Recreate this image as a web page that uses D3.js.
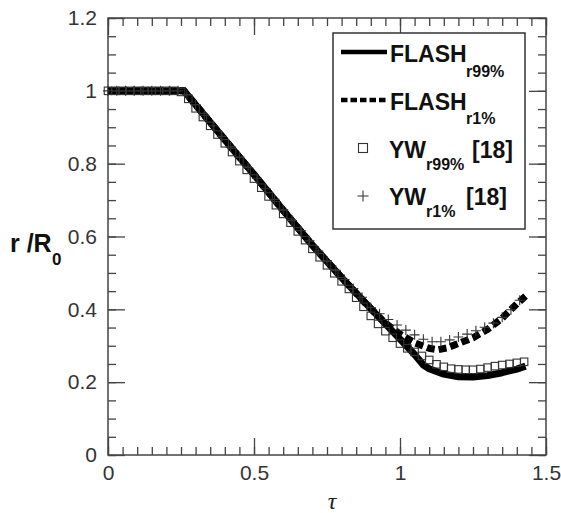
<!DOCTYPE html>
<html>
<head>
<meta charset="utf-8">
<script src="https://cdn.jsdelivr.net/npm/d3@7"></script>
<style>
  body { margin: 0; background: #fff; }
  svg { display: block; }
</style>
</head>
<body>
<script>
// FLASH r99% (solid line)
const flash99Tau = [0, 0.26, 0.3, 0.4, 0.5, 0.6, 0.7, 0.8, 0.9, 1.0, 1.05, 1.08, 1.1, 1.15, 1.2, 1.25, 1.3, 1.35, 1.4, 1.43];
const flash99R   = [1, 1, 0.962, 0.866, 0.77, 0.672, 0.576, 0.487, 0.402, 0.318, 0.276, 0.247, 0.237, 0.222, 0.215, 0.214, 0.218, 0.226, 0.236, 0.244];

// FLASH r1% (dashed line)
const flash1Tau = [0, 0.26, 0.3, 0.4, 0.5, 0.6, 0.7, 0.8, 0.88, 0.95, 1.0, 1.05, 1.1, 1.13, 1.16, 1.2, 1.25, 1.3, 1.35, 1.4, 1.43];
const flash1R   = [1, 1, 0.962, 0.866, 0.77, 0.672, 0.576, 0.487, 0.418, 0.362, 0.332, 0.308, 0.293, 0.289, 0.294, 0.306, 0.322, 0.345, 0.376, 0.415, 0.436];

// YW r99% [18] (squares)
const yw99Tau = [0, 0.025, 0.05, 0.075, 0.1, 0.125, 0.15, 0.175, 0.2, 0.225,
  0.25, 0.275, 0.3, 0.325, 0.35, 0.375, 0.4, 0.425, 0.45, 0.475,
  0.5, 0.525, 0.55, 0.575, 0.6, 0.625, 0.65, 0.675, 0.7, 0.725,
  0.75, 0.775, 0.8, 0.825, 0.85, 0.875, 0.9, 0.925, 0.95, 0.975,
  1.0, 1.025, 1.05, 1.075, 1.1, 1.125, 1.15, 1.175, 1.2, 1.225,
  1.25, 1.275, 1.3, 1.325, 1.35, 1.375, 1.4, 1.425];
const yw99R = [1, 1, 1, 1, 1, 1, 1, 1, 1, 1,
  0.997, 0.978, 0.952, 0.928, 0.904, 0.88, 0.856, 0.832, 0.807, 0.783,
  0.759, 0.734, 0.71, 0.686, 0.662, 0.638, 0.614, 0.59, 0.566, 0.543,
  0.521, 0.499, 0.477, 0.456, 0.432, 0.407, 0.382, 0.36, 0.34, 0.322,
  0.306, 0.293, 0.283, 0.272, 0.261, 0.249, 0.242, 0.237, 0.235, 0.234,
  0.234, 0.236, 0.24, 0.244, 0.247, 0.25, 0.253, 0.256];

// YW r1% [18] (plus signs)
const yw1Tau = [0, 0.03, 0.06, 0.09, 0.12, 0.15, 0.18, 0.21, 0.24, 0.27,
  0.3, 0.33, 0.36, 0.39, 0.42, 0.45, 0.48, 0.51, 0.54, 0.57,
  0.6, 0.63, 0.66, 0.69, 0.72, 0.75, 0.78, 0.81, 0.84, 0.87,
  0.9, 0.93, 0.96, 0.99, 1.02, 1.05, 1.08, 1.11, 1.14, 1.17,
  1.2, 1.23, 1.26, 1.29, 1.32, 1.35, 1.38, 1.41];
const yw1R = [1, 1, 1, 1, 1, 1, 1, 1, 1, 0.99,
  0.962, 0.933, 0.904, 0.875, 0.846, 0.818, 0.789, 0.76, 0.731, 0.702,
  0.673, 0.644, 0.616, 0.588, 0.56, 0.533, 0.507, 0.482, 0.457, 0.433,
  0.405, 0.388, 0.372, 0.357, 0.343, 0.33, 0.318, 0.311, 0.311, 0.316,
  0.324, 0.332, 0.341, 0.351, 0.362, 0.378, 0.399, 0.425];

const xMajor = [0, 0.5, 1, 1.5];
const yMajor = [0, 0.2, 0.4, 0.6, 0.8, 1, 1.2];
const xMinor = d3.range(0, 1.5001, 0.05);
const yMinor = d3.range(0, 1.2001, 0.05);

const W = 561, H = 513;
const x = d3.scaleLinear().domain([0, 1.5]).range([108, 546]);
const y = d3.scaleLinear().domain([0, 1.2]).range([455, 18]);

const svg = d3.select("body").append("svg")
  .attr("width", W).attr("height", H)
  .attr("xmlns", "http://www.w3.org/2000/svg");

const axisColor = "#444";
const tickFont = "Arial, 'Liberation Sans', sans-serif";

function styleAxis(g, labels) {
  g.select(".domain").remove();
  g.selectAll(".tick line").attr("stroke", axisColor).attr("stroke-width", 1.3);
  g.selectAll(".tick text")
    .attr("fill", "#333")
    .style("font-family", tickFont)
    .style("font-size", "21px");
  if (!labels) g.selectAll(".tick text").remove();
}

// bottom
svg.append("g").attr("transform", `translate(0,${y(0)})`)
  .call(d3.axisBottom(x).tickValues(xMinor).tickSizeInner(-8).tickSizeOuter(0).tickFormat(""))
  .call(g => styleAxis(g, false));
svg.append("g").attr("transform", `translate(0,${y(0)})`)
  .call(d3.axisBottom(x).tickValues(xMajor).tickSizeInner(-17).tickSizeOuter(0).tickPadding(10).tickFormat(d3.format("")))
  .call(g => styleAxis(g, true));
// top
svg.append("g").attr("transform", `translate(0,${y(1.2)})`)
  .call(d3.axisTop(x).tickValues(xMinor).tickSizeInner(-8).tickSizeOuter(0).tickFormat(""))
  .call(g => styleAxis(g, false));
svg.append("g").attr("transform", `translate(0,${y(1.2)})`)
  .call(d3.axisTop(x).tickValues(xMajor).tickSizeInner(-17).tickSizeOuter(0).tickFormat(""))
  .call(g => styleAxis(g, false));
// left
svg.append("g").attr("transform", `translate(${x(0)},0)`)
  .call(d3.axisLeft(y).tickValues(yMinor).tickSizeInner(-8).tickSizeOuter(0).tickFormat(""))
  .call(g => styleAxis(g, false));
svg.append("g").attr("transform", `translate(${x(0)},0)`)
  .call(d3.axisLeft(y).tickValues(yMajor).tickSizeInner(-17).tickSizeOuter(0).tickPadding(11).tickFormat(d3.format("")))
  .call(g => styleAxis(g, true));
// right
svg.append("g").attr("transform", `translate(${x(1.5)},0)`)
  .call(d3.axisRight(y).tickValues(yMinor).tickSizeInner(-8).tickSizeOuter(0).tickFormat(""))
  .call(g => styleAxis(g, false));
svg.append("g").attr("transform", `translate(${x(1.5)},0)`)
  .call(d3.axisRight(y).tickValues(yMajor).tickSizeInner(-17).tickSizeOuter(0).tickFormat(""))
  .call(g => styleAxis(g, false));

// frame
svg.append("rect")
  .attr("x", x(0)).attr("y", y(1.2))
  .attr("width", x(1.5) - x(0)).attr("height", y(0) - y(1.2))
  .attr("fill", "none").attr("stroke", axisColor).attr("stroke-width", 1.5);

// lines
const line = d3.line().x(d => x(d[0])).y(d => y(d[1]));

svg.append("path")
  .datum(d3.zip(flash99Tau, flash99R))
  .attr("d", line)
  .attr("fill", "none").attr("stroke", "#000").attr("stroke-width", 7)
  .attr("stroke-linejoin", "round");

svg.append("path")
  .datum(d3.zip(flash1Tau, flash1R))
  .attr("d", line)
  .attr("fill", "none").attr("stroke", "#000").attr("stroke-width", 7)
  .attr("stroke-dasharray", "8,4");

// markers
const sq = 7.5;
svg.append("g").selectAll("rect")
  .data(d3.zip(yw99Tau, yw99R))
  .join("rect")
  .attr("x", d => x(d[0]) - sq / 2)
  .attr("y", d => y(d[1]) - sq / 2)
  .attr("width", sq).attr("height", sq)
  .attr("fill", "none").attr("stroke", "#333").attr("stroke-width", 1.1);

const pl = 5;
svg.append("g").selectAll("path")
  .data(d3.zip(yw1Tau, yw1R))
  .join("path")
  .attr("d", d => {
    const cx = x(d[0]), cy = y(d[1]);
    return `M${cx - pl},${cy}H${cx + pl}M${cx},${cy - pl}V${cy + pl}`;
  })
  .attr("fill", "none").attr("stroke", "#333").attr("stroke-width", 1.1);

// legend
const legend = svg.append("g");
legend.append("rect")
  .attr("x", 333).attr("y", 33).attr("width", 192).attr("height", 196)
  .attr("fill", "#fff").attr("stroke", "#333").attr("stroke-width", 1.5);

const boldFont = "Arial, 'Liberation Sans', sans-serif";
function legText(tx, ty, str, size) {
  legend.append("text")
    .attr("x", tx).attr("y", ty)
    .attr("fill", "#111")
    .style("font-family", boldFont)
    .style("font-weight", "bold")
    .style("font-size", size + "px")
    .text(str);
}

legend.append("line").attr("x1", 341).attr("x2", 387).attr("y1", 52).attr("y2", 52)
  .attr("stroke", "#000").attr("stroke-width", 4.5);
legText(390, 62, "FLASH", 23);
legText(466, 77, "r99%", 16);

legend.append("line").attr("x1", 341).attr("x2", 387).attr("y1", 100).attr("y2", 100)
  .attr("stroke", "#000").attr("stroke-width", 4.5).attr("stroke-dasharray", "6.5,3");
legText(390, 110, "FLASH", 23);
legText(466, 124, "r1%", 16);

legend.append("rect").attr("x", 358.5).attr("y", 143.5).attr("width", 9).attr("height", 9)
  .attr("fill", "none").attr("stroke", "#333").attr("stroke-width", 1.1);
legText(389, 158, "YW", 23);
legText(426, 170, "r99%", 16);
legText(472, 158, "[18]", 23);

legend.append("path").attr("d", "M357.5,196H368.5M363,190.5V201.5")
  .attr("stroke", "#333").attr("stroke-width", 1.1);
legText(389, 205, "YW", 23);
legText(426, 217, "r1%", 16);
legText(466, 205, "[18]", 23);

// axis titles
svg.append("text")
  .attr("x", 10).attr("y", 252)
  .style("font-family", boldFont).style("font-weight", "bold").style("font-size", "25px")
  .attr("fill", "#111")
  .text("r /R");
svg.append("text")
  .attr("x", 52).attr("y", 265)
  .style("font-family", boldFont).style("font-weight", "bold").style("font-size", "17px")
  .attr("fill", "#111")
  .text("0");

svg.append("text")
  .attr("x", 332).attr("y", 509)
  .attr("text-anchor", "middle")
  .style("font-family", "'Liberation Serif', 'Times New Roman', serif")
  .style("font-style", "italic").style("font-size", "24px")
  .attr("fill", "#222")
  .text("τ");
</script>
</body>
</html>
